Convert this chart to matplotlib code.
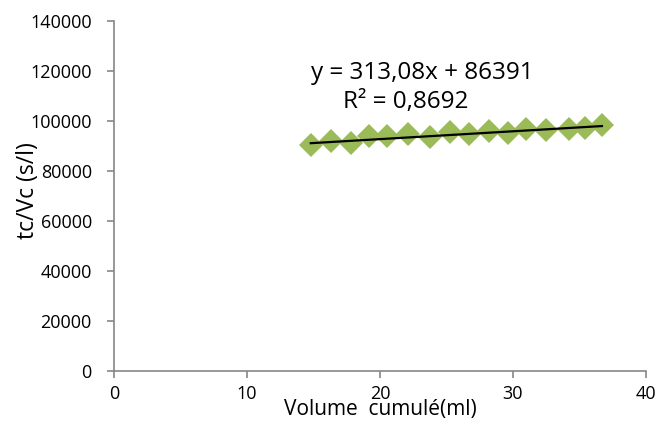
import matplotlib
matplotlib.use("Agg")
import matplotlib.pyplot as plt
import numpy as np

plt.rcParams['font.family'] = ['Open Sans', 'DejaVu Sans']

# Cumulative filtrate volume (ml) and t/V ratio (s/l)
volume_ml = [14.8, 16.3, 17.8, 19.2, 20.5, 22.1, 23.8, 25.3, 26.7, 28.2,
             29.6, 31.0, 32.5, 34.2, 35.4, 36.7]
t_over_v = [90300, 92000, 91000, 93900, 93900, 94900, 93600, 95600, 94700,
            96000, 95100, 96700, 96300, 96700, 97200, 98300]

# Linear trend line coefficients
slope = 313.08
intercept = 86391
r_squared = 0.8692

x_ticks = [0, 10, 20, 30, 40]
y_ticks = [0, 20000, 40000, 60000, 80000, 100000, 120000, 140000]

fig = plt.figure(figsize=(6.57, 4.24), dpi=100)
ax = fig.add_axes([0.1735, 0.1257, 0.8095, 0.8253])

ax.plot(volume_ml, t_over_v, linestyle='none', marker='D', markersize=12,
        color='#9BBB59', markeredgewidth=0, zorder=2)

xfit = np.array([volume_ml[0], volume_ml[-1]])
ax.plot(xfit, slope * xfit + intercept, color='black', linewidth=1.6, zorder=3)

ax.set_xlim(0, 40)
ax.set_ylim(0, 140000)
ax.set_xticks(x_ticks)
ax.set_yticks(y_ticks)
ax.set_xticklabels([str(v) for v in x_ticks])
ax.set_yticklabels([str(v) for v in y_ticks])

for side in ('top', 'right'):
    ax.spines[side].set_visible(False)
for side in ('left', 'bottom'):
    ax.spines[side].set_color('#868686')
    ax.spines[side].set_linewidth(1.2)
ax.tick_params(axis='y', color='#868686', width=1.2, length=5, pad=11,
               labelcolor='black', labelsize=13)
ax.tick_params(axis='x', color='#868686', width=1.2, length=5, pad=5,
               labelcolor='black', labelsize=13)

ax.set_xlabel('Volume  cumulé(ml)', fontsize=15, va='center')
ax.xaxis.set_label_coords(0.5, -0.112)
ax.set_ylabel('tc/Vc (s/l)', fontsize=16.5, va='center')
ax.yaxis.set_label_coords(-0.162, 0.516)

eq = f"y = {slope:.2f}x + {intercept}".replace('.', ',')
r2 = f"R² = {r_squared:.4f}".replace('.', ',')
ax.text(23.16, 119080, eq, fontsize=17.5, ha='center', va='center')
ax.text(21.95, 107480, r2, fontsize=17.5, ha='center', va='center')

fig.savefig('out.png', dpi=100)
